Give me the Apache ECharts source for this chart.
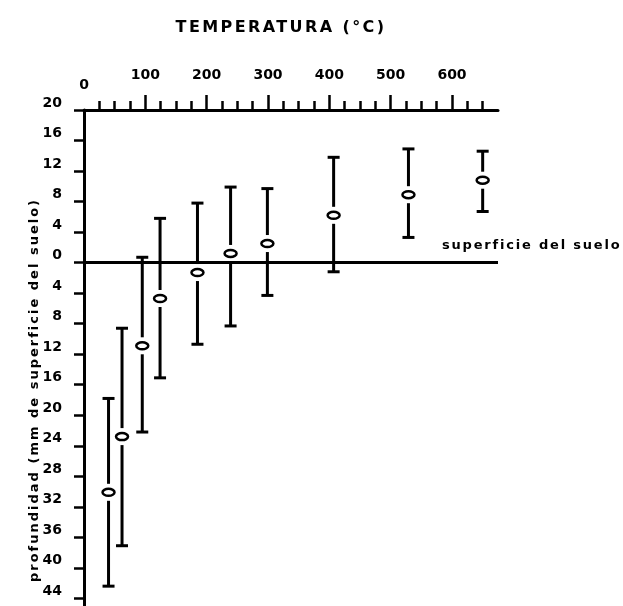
<!DOCTYPE html>
<html><head><meta charset="utf-8">
<script src="https://cdn.jsdelivr.net/npm/echarts@6/dist/echarts.min.js"></script>
<style>html,body{margin:0;padding:0;background:#fff}#c{width:623px;height:606px}</style>
</head><body><div id="c"></div>
<script>
// Data (°C on x, mm relative to soil surface on y: positive above, negative = depth)
const temperatures = [40, 62, 95, 124, 185, 239, 299, 407, 529, 650];
const means = [-30.1, -22.8, -10.9, -4.7, -1.3, 1.2, 2.5, 6.2, 8.9, 10.8];
const lows  = [-42.4, -37.1, -22.2, -15.1, -10.7, -8.3, -4.3, -1.2, 3.3, 6.7];
const highs = [-17.8, -8.6, 0.7, 5.8, 7.8, 9.9, 9.7, 13.8, 14.9, 14.6];
const xLabelValues = [0, 100, 200, 300, 400, 500, 600];
const xMajorTicks = [100, 200, 300, 400, 500, 600];
const xMinorTicks = [25, 50, 75, 125, 150, 175, 225, 250, 275, 325, 350, 375, 425, 450, 475, 525, 550, 575, 625, 650];
const yTickValues = [20, 16, 12, 8, 4, 0, -4, -8, -12, -16, -20, -24, -28, -32, -36, -40, -44];

const TITLE = 'TEMPERATURA (°C)';
const Y_NAME = 'profundidad (mm de superficie del suelo)';
const SURFACE = 'superficie del suelo';

// wider letter spacing for the lettering of the original (only these three texts)
const SPACING = {};
SPACING[TITLE] = '2.4px';
SPACING[Y_NAME] = '2px';
SPACING[SURFACE] = '1.8px';
(function () {
  const proto = CanvasRenderingContext2D.prototype;
  const orig = proto.fillText;
  proto.fillText = function (t, x, y, m) {
    const sp = SPACING[t];
    const has = 'letterSpacing' in this;
    if (has) {
      const want = sp || '0px';
      if (this.letterSpacing !== want) { this.letterSpacing = want; const f = this.font; this.font = f; }
    }
    m === undefined ? orig.call(this, t, x, y) : orig.call(this, t, x, y, m);
    if (has && sp) { this.letterSpacing = '0px'; const f = this.font; this.font = f; }
  };
})();

const FONT = 'DejaVu Sans';
const chart = echarts.init(document.getElementById('c'), null, {renderer: 'canvas'});
const data = temperatures.map((t, i) => [t, lows[i], highs[i], means[i]]);

const option = {
  animation: false,
  backgroundColor: '#fff',
  title: {
    text: TITLE, left: 276, top: 15, textAlign: 'center',
    textStyle: {fontFamily: FONT, fontWeight: 'bold', fontSize: 16, color: '#000'}
  },
  grid: {left: 84, right: 125, top: 110, bottom: 0},
  xAxis: [{
    type: 'value', position: 'top', min: 0, max: 675,
    axisLine: {show: true, onZero: false, lineStyle: {color: '#000', width: 3}},
    axisTick: {show: true, customValues: xMajorTicks, length: 15, lineStyle: {color: '#000', width: 2.5}},
    axisLabel: {
      customValues: xLabelValues, margin: 18,
      formatter: v => v === 0 ? '{z|0}' : '{n|' + v + '}',
      rich: {
        z: {fontFamily: FONT, fontWeight: 'bold', fontSize: 14, color: '#000'},
        n: {fontFamily: FONT, fontWeight: 'bold', fontSize: 14, color: '#000', padding: [0, 0, 10, 0]}
      }
    },
    splitLine: {show: false}
  }, {
    type: 'value', position: 'top', min: 0, max: 675,
    axisLine: {show: false, onZero: false},
    axisTick: {show: true, customValues: xMinorTicks, length: 9, lineStyle: {color: '#000', width: 2.5}},
    axisLabel: {show: false},
    splitLine: {show: false}
  }],
  yAxis: {
    type: 'value', min: -45, max: 20,
    axisLine: {show: true, onZero: false, lineStyle: {color: '#000', width: 3}},
    axisTick: {show: true, customValues: yTickValues, length: 10, lineStyle: {color: '#000', width: 2.5}},
    axisLabel: {
      customValues: yTickValues, margin: 22, verticalAlign: 'bottom',
      formatter: v => String(Math.abs(v)),
      fontFamily: FONT, fontWeight: 'bold', fontSize: 14, color: '#000'
    },
    splitLine: {show: false}
  },
  graphic: [{
    type: 'text', x: 35, y: 390, rotation: Math.PI / 2,
    style: {text: Y_NAME, align: 'center', verticalAlign: 'middle',
            fontFamily: FONT, fontWeight: 'bold', fontSize: 13, fill: '#000'}
  }, {
    type: 'text', left: 442, top: 239,
    style: {text: SURFACE, fontFamily: FONT, fontWeight: 'bold', fontSize: 13, fill: '#000'}
  }],
  series: [{
    type: 'custom',
    xAxisIndex: 0,
    data: data,
    encode: {x: 0, y: [1, 2, 3]},
    renderItem: function (params, api) {
      const x = api.value(0), lo = api.value(1), hi = api.value(2), m = api.value(3);
      const pLo = api.coord([x, lo]), pHi = api.coord([x, hi]), pM = api.coord([x, m]);
      const cx = pM[0], rx = 6, ry = 3.5, gap = 5, cap = 6;
      const st = {stroke: '#000', lineWidth: 3};
      const ch = [];
      if (pM[1] - ry - gap > pHi[1]) ch.push({type: 'line', shape: {x1: cx, y1: pHi[1], x2: cx, y2: pM[1] - ry - gap}, style: st});
      if (pM[1] + ry + gap < pLo[1]) ch.push({type: 'line', shape: {x1: cx, y1: pM[1] + ry + gap, x2: cx, y2: pLo[1]}, style: st});
      ch.push({type: 'line', shape: {x1: cx - cap, y1: pHi[1], x2: cx + cap, y2: pHi[1]}, style: st});
      ch.push({type: 'line', shape: {x1: cx - cap, y1: pLo[1], x2: cx + cap, y2: pLo[1]}, style: st});
      ch.push({type: 'ellipse', shape: {cx: cx, cy: pM[1], rx: rx, ry: ry}, style: {fill: '#fff', stroke: '#000', lineWidth: 2.5}});
      return {type: 'group', children: ch};
    },
    markLine: {
      silent: true, symbol: 'none', label: {show: false},
      lineStyle: {color: '#000', width: 3, type: 'solid'},
      data: [{yAxis: 0}]
    },
    z: 3
  }]
};
chart.setOption(option);
</script>
</body></html>
